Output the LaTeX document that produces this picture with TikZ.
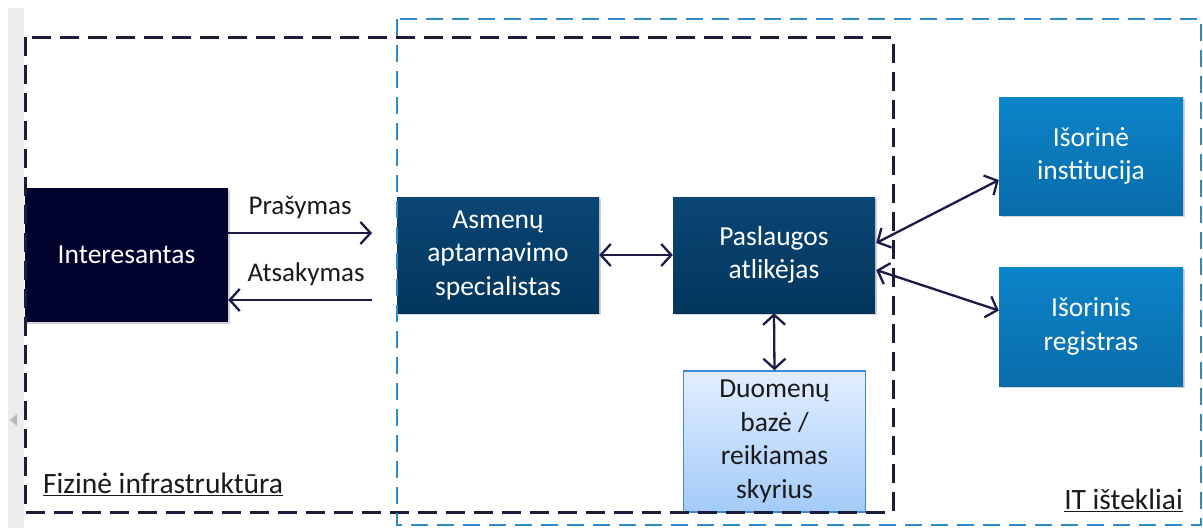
\documentclass[tikz,border=0pt]{standalone}
\usepackage{fontspec}
\setmainfont{Carlito}
\usetikzlibrary{arrows.meta,shadows,calc}
\definecolor{navy}{HTML}{01012E}
\definecolor{deepblue}{HTML}{0A4675}
\definecolor{deepblueb}{HTML}{04365C}
\definecolor{midblue}{HTML}{0B84C8}
\definecolor{midblueb}{HTML}{0A6CAA}
\definecolor{paletop}{HTML}{E2EEFF}
\definecolor{palebot}{HTML}{A3CBF8}
\definecolor{paleedge}{HTML}{3A8BD0}
\definecolor{arrowc}{HTML}{1B1B45}
\definecolor{zoneblack}{HTML}{1C1C38}
\definecolor{zoneblue}{HTML}{2E8BC9}
\definecolor{txt}{HTML}{1A1A1A}
\tikzset{
  boxtext/.style={font=\fontsize{27.5}{33.5}\selectfont, align=center, inner sep=0pt},
  shade/.style={drop shadow={opacity=0.35, shadow xshift=2pt, shadow yshift=-2pt}},
  darkbox/.style={boxtext, shade, text=white, top color=deepblue, bottom color=deepblueb,
    minimum width=202pt, minimum height=116pt},
  extbox/.style={boxtext, shade, text=white, top color=midblue, bottom color=midblueb,
    minimum width=184pt, minimum height=118pt},
  link/.style={draw=arrowc, line width=2.3pt},
  tip/.style={-{Straight Barb[length=10pt,width=22pt,line width=2.3pt]}},
  bothtips/.style={{Straight Barb[length=10pt,width=22pt,line width=2.3pt]}-{Straight Barb[length=10pt,width=22pt,line width=2.3pt]}},
  arrowlabel/.style={font=\fontsize{27}{30}\selectfont, text=txt, inner sep=0pt},
  zonelabel/.style={font=\fontsize{29.5}{32}\selectfont, text=txt, inner sep=0pt}
}
\begin{document}
\begin{tikzpicture}[x=1pt,y=-1pt]
\useasboundingbox (0,0) rectangle (1203,528);
\fill[white] (0,0) rectangle (1203,528);
% side strip with its small marker
\fill[gray!15] (8,8) rectangle (24,528);
\fill[gray!55] (10,420) -- (17,414) -- (17,426) -- cycle;

% boxes
\node[boxtext, shade, text=white, fill=navy, minimum width=203pt, minimum height=134pt]
  (inter) at (126.5,255) {Interesantas};
\node[darkbox] (asm) at (498,255) {Asmenų\\aptarnavimo\\specialistas};
\node[darkbox] (pasl) at (774,255) {Paslaugos\\atlikėjas};
\node[extbox] (inst) at (1091,156) {Išorinė\\institucija};
\node[extbox, minimum height=119pt] (reg) at (1091,326.5) {Išorinis\\registras};
\node[boxtext, text=txt, top color=paletop, bottom color=palebot, draw=paleedge, line width=1.5pt,
  minimum width=182pt, minimum height=141pt] (db) at (774.5,441.5)
  {Duomenų\\bazė /\\reikiamas\\skyrius};

% request and answer
\coordinate (reqend) at (372,233);
\coordinate (ansstart) at (372,300);
\draw[link, tip] (inter.east |- reqend) -- (reqend)
  node[arrowlabel, midway, above=13pt] (req) {Prašymas};
\draw[link, tip] (ansstart) -- (inter.east |- ansstart)
  node[arrowlabel, midway, above=13pt, xshift=6pt] (ans) {Atsakymas};

% exchanges
\draw[link, bothtips] (asm.east) -- (pasl.west);
\draw[link, bothtips] ($(pasl.east)+(1,-12)$) -- ($(inst.west)+(0,24)$);
\draw[link, bothtips] ($(pasl.east)+(1,15)$) -- ($(reg.west)+(0,-16)$);
\draw[link, bothtips] (pasl.south) -- (db.north);

% zones
\draw[zoneblack, line width=3pt, dash pattern=on 19pt off 9pt] (25,37) rectangle (893,512);
\draw[zoneblue, line width=2.5pt, dash pattern=on 17pt off 9pt] (397,19) rectangle (1201,525);
\node[zonelabel, anchor=west] (phys) at (43,484) {\underline{Fizinė infrastruktūra}};
\node[zonelabel, anchor=east] (it) at (1183,500) {\underline{IT ištekliai}};
\end{tikzpicture}
\end{document}
